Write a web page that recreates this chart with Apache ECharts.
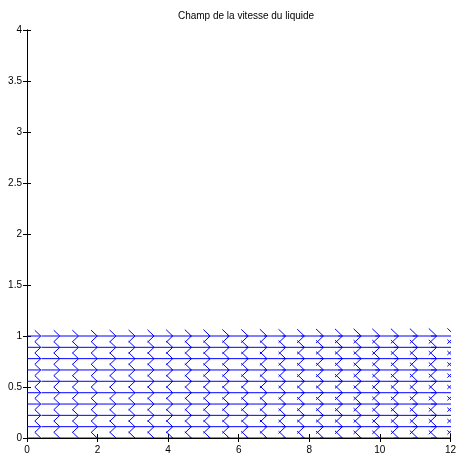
<!DOCTYPE html>
<html>
<head>
<meta charset="utf-8">
<title>Champ de la vitesse du liquide</title>
<script src="https://cdn.jsdelivr.net/npm/echarts@6/dist/echarts.min.js"></script>
<style>
    html, body { margin: 0; padding: 0; background: #fff; }
    #chart { width: 459px; height: 457px; }
</style>
</head>
<body>
<div id="chart"></div>
<script>
// grille du champ (points de depart des fleches)
var xs = [-0.12, 0.41, 0.93, 1.46, 1.98, 2.51, 3.04, 3.56, 4.09, 4.61, 5.14, 5.67,
          6.19, 6.72, 7.24, 7.77, 8.30, 8.82, 9.35, 9.87, 10.40, 10.93, 11.45];
var ys = [0, 0.111, 0.222, 0.333, 0.444, 0.556, 0.667, 0.778, 0.889, 1];
// composante horizontale de la vitesse, par colonne (v = 0)
var us = [0.51, 0.52, 0.53, 0.53, 0.54, 0.55, 0.56, 0.57, 0.57, 0.58, 0.59, 0.60,
          0.61, 0.61, 0.62, 0.63, 0.64, 0.65, 0.65, 0.66, 0.67, 0.68, 0.69];
var xTicks = [0, 2, 4, 6, 8, 10, 12];
var yTicks = [0, 0.5, 1, 1.5, 2, 2.5, 3, 3.5, 4];

var data = [];
for (var j = 0; j < ys.length; j++) {
    for (var i = 0; i < xs.length; i++) {
        data.push([xs[i], ys[j], us[i]]);
    }
}

var font = 'Liberation Sans, Arial, sans-serif';
var chart = echarts.init(document.getElementById('chart'));

// fleche facon quiver : tige + pointe (alpha = beta = 0.33)
function renderArrow(params, api) {
    var x = api.value(0), y = api.value(1), u = api.value(2);
    var alpha = 0.33, beta = 0.33;
    var p0 = api.coord([x, y]);
    var p1 = api.coord([x + u, y]);
    var b1 = api.coord([x + u - alpha * u, y + alpha * beta * u]);
    var b2 = api.coord([x + u - alpha * u, y - alpha * beta * u]);
    var style = { stroke: '#0000ff', lineWidth: 1, fill: null };
    return {
        type: 'group',
        children: [
            { type: 'polyline', shape: { points: [p0, p1] }, style: style },
            { type: 'polyline', shape: { points: [b1, p1, b2] }, style: style }
        ]
    };
}

var axisCommon = {
    axisLine: { lineStyle: { color: '#000', width: 1 } },
    axisTick: { inside: true, length: 4, lineStyle: { color: '#000' } },
    splitLine: { show: false }
};

chart.setOption({
    animation: false,
    title: {
        text: 'Champ de la vitesse du liquide',
        left: 241,
        top: 6,
        textAlign: 'center',
        textStyle: { fontFamily: font, fontSize: 10, fontWeight: 'normal', color: '#000' }
    },
    grid: { left: 27, right: 4, top: 30, bottom: 19 },
    xAxis: [
        Object.assign({
            type: 'value', min: 0, max: 12, interval: 2, position: 'bottom',
            axisLabel: {
                fontFamily: font, fontSize: 10, color: '#000', margin: 7,
                customValues: xTicks
            }
        }, axisCommon),
        Object.assign({
            type: 'value', min: 0, max: 12, interval: 2, position: 'top',
            axisLabel: { show: false }
        }, axisCommon)
    ],
    yAxis: [
        Object.assign({
            type: 'value', min: 0, max: 4, interval: 0.5, position: 'left',
            axisLabel: {
                fontFamily: font, fontSize: 10, color: '#000', margin: 5,
                customValues: yTicks
            }
        }, axisCommon),
        Object.assign({
            type: 'value', min: 0, max: 4, interval: 0.5, position: 'right',
            axisLabel: { show: false }
        }, axisCommon)
    ],
    series: [{
        type: 'custom',
        xAxisIndex: 0,
        yAxisIndex: 0,
        clip: true,
        renderItem: renderArrow,
        data: data,
        z: 10
    }]
});
</script>
</body>
</html>
